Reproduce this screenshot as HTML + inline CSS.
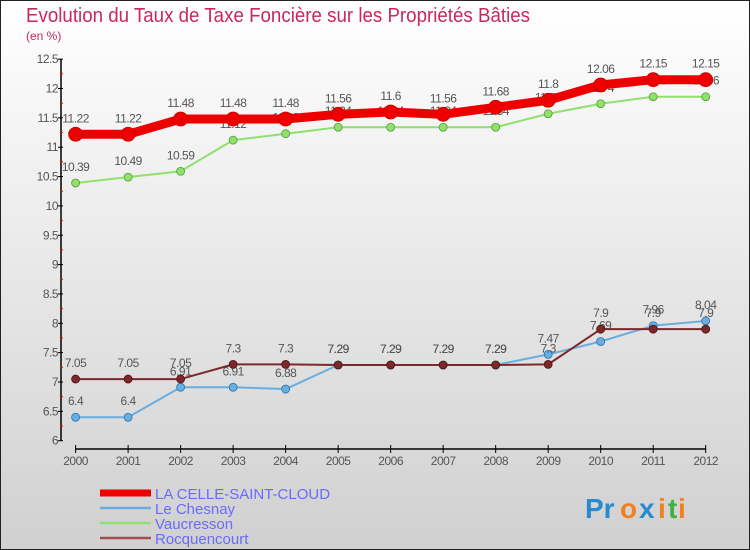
<!DOCTYPE html>
<html><head><meta charset="utf-8"><style>
html,body{margin:0;padding:0}
body{width:750px;height:550px;overflow:hidden;font-family:"Liberation Sans",sans-serif}
svg{display:block}
</style></head><body>
<svg id="chart" width="750" height="550" viewBox="0 0 750 550">
<defs><linearGradient id="bg" x1="0" y1="0" x2="0" y2="1"><stop offset="0" stop-color="#ffffff"/><stop offset="1" stop-color="#d0d0d0"/></linearGradient></defs>
<rect x="0.5" y="0.5" width="749" height="549" fill="url(#bg)" stroke="#222"/>
<text x="26" y="22" font-size="20" fill="#c8285a" textLength="504" lengthAdjust="spacingAndGlyphs">Evolution du Taux de Taxe Foncière sur les Propriétés Bâties</text>
<text x="26" y="40" font-size="12" fill="#c8285a">(en %)</text>
<g id="axes"></g><g id="series"></g><g id="legend"></g>
<g font-size="28" font-weight="bold">
<text x="585" y="518" fill="#2a8ad0">Pr</text><text x="620" y="518" fill="#f08020">o</text><text x="639" y="518" fill="#2a8ad0">x</text><text x="658" y="518" fill="#f08020">i</text><text x="668" y="518" fill="#40b040">t</text><text x="678" y="518" fill="#f08020">i</text>
</g>
</svg>
<script>
const years=[2000,2001,2002,2003,2004,2005,2006,2007,2008,2009,2010,2011,2012];
const yTicks=[6,6.5,7,7.5,8,8.5,9,9.5,10,10.5,11,11.5,12,12.5];
const laCelle=[11.22,11.22,11.48,11.48,11.48,11.56,11.6,11.56,11.68,11.8,12.06,12.15,12.15];
const leChesnay=[6.4,6.4,6.91,6.91,6.88,7.29,7.29,7.29,7.29,7.47,7.69,7.96,8.04];
const vaucresson=[10.39,10.49,10.59,11.12,11.23,11.34,11.34,11.34,11.34,11.57,11.74,11.86,11.86];
const rocquencourt=[7.05,7.05,7.05,7.3,7.3,7.29,7.29,7.29,7.29,7.3,7.9,7.9,7.9];
const NS='http://www.w3.org/2000/svg';
function X(i){return 75.6+i*(705.7-75.6)/(years.length-1);}
function Y(v){return 440.7-(v-6)*58.7;}
function mk(tag,attrs,parent){const e=document.createElementNS(NS,tag);for(const k in attrs)e.setAttribute(k,attrs[k]);parent.appendChild(e);return e;}
const axes=document.getElementById('axes');
const ya=mk('line',{x1:61,y1:Y(12.5),x2:61,y2:441,stroke:'#000','stroke-width':1.5},axes);


const xa=mk('line',{x1:75,y1:449,x2:706,y2:449,stroke:'#000','stroke-width':1.5},axes);


yTicks.forEach(t=>{
  mk('line',{x1:58,y1:Y(t),x2:63,y2:Y(t),stroke:'#000'},axes);
  if(t<12.5) mk('line',{x1:60,y1:Y(t+0.25),x2:63,y2:Y(t+0.25),stroke:'#e00'},axes);
  const tx=mk('text',{x:58,y:Y(t)+4,'font-size':12,fill:'#555','text-anchor':'end','letter-spacing':'-0.5'},axes);
  tx.textContent=String(t);
  
  
});
years.forEach((yr,i)=>{
  mk('line',{x1:X(i),y1:445,x2:X(i),y2:453,stroke:'#000'},axes);
  const tx=mk('text',{x:X(i),y:465,'font-size':12,fill:'#555','text-anchor':'middle','letter-spacing':'-0.5'},axes);
  tx.textContent=String(yr);
  
  
});
const ser=document.getElementById('series');
function draw(vals,color,w,r,name,stroke){
  const g=mk('g',{},ser);
  
  
  mk('polyline',{points:vals.map((v,i)=>X(i)+','+Y(v)).join(' '),fill:'none',stroke:color,'stroke-width':w,'stroke-linejoin':'round'},g);
  vals.forEach((v,i)=>{
    const c=mk('circle',{cx:X(i),cy:Y(v),r:r,fill:color,stroke:stroke,'stroke-width':0.8},g);
    
    
    const t=mk('text',{x:X(i),y:Y(v)-12,'font-size':12,fill:'#555','text-anchor':'middle','letter-spacing':'-0.5'},g);
    t.textContent=String(v);
  });
}
draw(vaucresson,'#90e070',2,4,'vaucresson','#50a030');
draw(laCelle,'#ee0000',9,7,'la-celle-saint-cloud','#cc0000');
draw(leChesnay,'#6aaee0',2,4,'le-chesnay','#2070b0');
draw(rocquencourt,'#7a2a2a',2,4,'rocquencourt','#501010');
const lg=document.getElementById('legend');
const items=[['LA CELLE-SAINT-CLOUD','#ee0000',7],['Le Chesnay','#6aaee0',2.5],['Vaucresson','#90e070',2.5],['Rocquencourt','#a05050',2.5]];
items.forEach((it,i)=>{
  const y=493+i*15;
  const g=mk('g',{},lg);
  
  
  mk('line',{x1:100,y1:y,x2:151,y2:y,stroke:it[1],'stroke-width':it[2]},g);
  const t=mk('text',{x:155,y:y+6,'font-size':15,fill:'#6a6aff'},g);
  t.textContent=it[0];
});
</script>
</body></html>
